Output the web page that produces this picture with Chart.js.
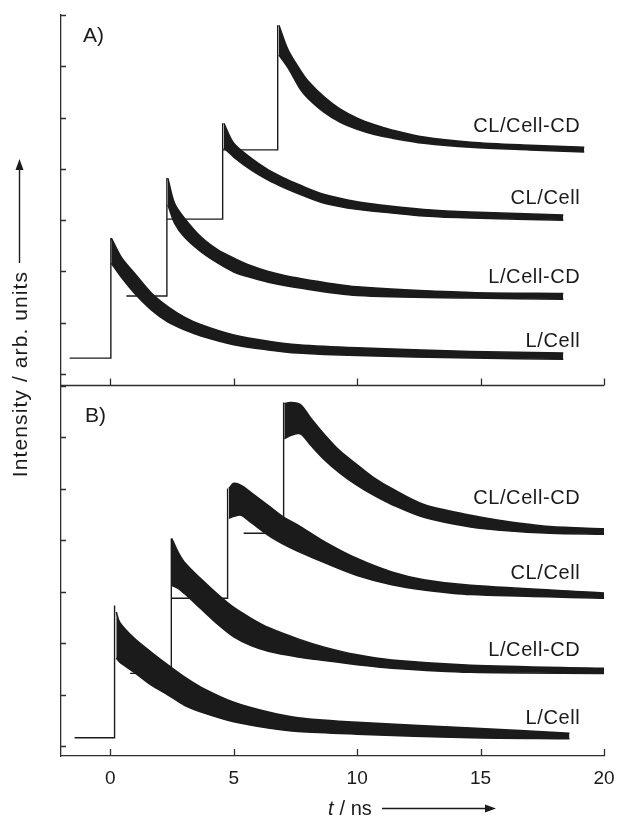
<!DOCTYPE html>
<html>
<head>
<meta charset="utf-8">
<script src="https://cdn.jsdelivr.net/npm/chart.js@4.4.1/dist/chart.umd.min.js"></script>
<style>
  html, body { margin: 0; padding: 0; background: #fff; }
  #wrap { position: relative; width: 618px; height: 816px; }
</style>
</head>
<body>
<div id="wrap"><canvas id="chart"></canvas></div>
<script>
// ==================
//  DATA (t in ns, intensity in arb. units, one unit = one tick)
// ==================
const X_TICKS = [0, 5, 10, 15, 20];
const Y_TICKS = [0, 1, 2, 3, 4, 5, 6, 7];
const CURVE_NAMES = ["CL/Cell-CD", "CL/Cell", "L/Cell-CD", "L/Cell"];

// --- Panel A ---
const aLCellStepT = [-1.65, 0.02, 0.02];
const aLCellStepV = [0.31, 0.31, 2.65];
const aLCellT  = [0.04, 0.44, 0.97, 1.66, 2.34, 3.0, 3.68, 5.0, 6.4, 7.6, 10.0, 14.6, 18.35];
const aLCellHi = [2.65, 2.28, 1.97, 1.58, 1.31, 1.11, 0.96, 0.76, 0.64, 0.57, 0.51, 0.44, 0.41];
const aLCellLo = [2.16, 1.89, 1.58, 1.25, 1.01, 0.86, 0.74, 0.57, 0.47, 0.41, 0.36, 0.31, 0.29];

const aLCellCDStepT = [0.65, 2.29, 2.29];
const aLCellCDStepV = [1.52, 1.52, 3.82];
const aLCellCDT  = [2.33, 2.6, 3.0, 3.68, 4.36, 5.0, 5.7, 6.4, 7.6, 10.0, 14.6, 18.35];
const aLCellCDHi = [3.82, 3.33, 3.04, 2.67, 2.42, 2.26, 2.11, 2.00, 1.87, 1.70, 1.59, 1.57];
const aLCellCDLo = [3.30, 2.94, 2.67, 2.38, 2.16, 1.99, 1.88, 1.79, 1.68, 1.53, 1.48, 1.46];

const aCLCellStepT = [2.29, 4.55, 4.55];
const aCLCellStepV = [3.02, 3.02, 4.89];
const aCLCellT  = [4.6, 5.0, 5.7, 6.4, 7.0, 7.7, 8.67, 10.0, 11.4, 12.7, 14.6, 18.35];
const aCLCellHi = [4.89, 4.50, 4.21, 3.98, 3.83, 3.68, 3.50, 3.36, 3.27, 3.21, 3.16, 3.10];
const aCLCellLo = [4.41, 4.23, 3.98, 3.78, 3.64, 3.50, 3.33, 3.21, 3.14, 3.08, 3.04, 3.00];

const aCLCellCDStepT = [4.55, 6.78, 6.78];
const aCLCellCDStepV = [4.37, 4.37, 6.80];
const aCLCellCDT  = [6.83, 7.2, 7.7, 8.0, 8.67, 9.3, 10.0, 10.7, 11.4, 12.7, 14.6, 17.0, 19.2];
const aCLCellCDHi = [6.80, 6.32, 5.92, 5.72, 5.40, 5.17, 4.99, 4.86, 4.76, 4.62, 4.52, 4.46, 4.42];
const aCLCellCDLo = [6.22, 5.97, 5.55, 5.38, 5.10, 4.91, 4.77, 4.67, 4.60, 4.50, 4.42, 4.37, 4.33];

// --- Panel B ---
const bLCellStepT = [-1.45, 0.17, 0.17];
const bLCellStepV = [0.16, 0.16, 2.73];
const bLCellT  = [0.24, 0.38, 0.97, 1.66, 2.34, 3.0, 3.68, 5.0, 6.4, 7.6, 10.0, 14.6, 18.6];
const bLCellHi = [2.60, 2.40, 2.09, 1.82, 1.57, 1.34, 1.14, 0.85, 0.66, 0.55, 0.46, 0.35, 0.25];
const bLCellLo = [1.71, 1.63, 1.43, 1.18, 0.99, 0.79, 0.66, 0.47, 0.35, 0.28, 0.23, 0.16, 0.14];

const bLCellCDStepT = [0.8, 2.47, 2.47];
const bLCellCDStepV = [1.41, 1.41, 4.03];
const bLCellCDT  = [2.49, 2.75, 3.0, 3.68, 4.36, 5.0, 5.7, 6.4, 7.6, 8.67, 10.0, 11.4, 14.6, 20.0];
const bLCellCDHi = [4.03, 3.76, 3.57, 3.24, 2.94, 2.69, 2.48, 2.30, 2.08, 1.92, 1.77, 1.67, 1.57, 1.51];
const bLCellCDLo = [3.12, 3.06, 2.96, 2.66, 2.36, 2.12, 1.95, 1.84, 1.73, 1.66, 1.58, 1.51, 1.43, 1.41];

const bCLCellStepT = [2.47, 4.75, 4.75];
const bCLCellStepV = [2.87, 2.87, 5.00];
const bCLCellT  = [4.8, 5.0, 5.3, 5.7, 6.4, 7.0, 7.6, 8.67, 10.0, 11.4, 12.7, 14.6, 20.0];
const bCLCellHi = [5.00, 5.10, 5.06, 4.92, 4.67, 4.45, 4.29, 3.97, 3.64, 3.38, 3.23, 3.12, 2.97];
const bCLCellLo = [4.42, 4.46, 4.48, 4.34, 4.09, 3.92, 3.78, 3.56, 3.31, 3.13, 3.03, 2.94, 2.87];

const bCLCellCDStepT = [5.4, 7.02, 7.02];
const bCLCellCDStepV = [4.13, 4.13, 6.67];
const bCLCellCDT  = [7.05, 7.3, 7.7, 8.1, 8.67, 9.3, 10.0, 10.7, 11.4, 12.7, 14.6, 15.8, 17.8, 20.0];
const bCLCellCDHi = [6.65, 6.67, 6.63, 6.38, 6.05, 5.73, 5.46, 5.20, 5.00, 4.69, 4.48, 4.38, 4.26, 4.22];
const bCLCellCDLo = [5.97, 6.03, 6.06, 5.85, 5.56, 5.30, 5.06, 4.86, 4.69, 4.44, 4.25, 4.19, 4.13, 4.11];

// label anchors (right edge t, centre value) per panel, same order as CURVE_NAMES
const LABEL_T = 19.04;
const LABEL_Y_A = [4.85, 3.45, 1.91, 0.66];
const LABEL_Y_B = [4.83, 3.37, 1.88, 0.56];

// ==================
//  STYLE
// ==================
const INK = "#1b1b1b";
const AXIS = "#2e2e2e";
const FONT = "'Liberation Sans', Arial, sans-serif";

function pts(ts, vs) {
  return ts.map((t, i) => ({ x: t, y: vs[i] }));
}

const datasets = [];
function addCurve(axis, stepT, stepV, t, hi, lo) {
  datasets.push({ data: pts(stepT, stepV), yAxisID: axis, borderColor: INK, borderWidth: 1.4, pointRadius: 0, fill: false, tension: 0 });
  datasets.push({ data: pts(t, hi), yAxisID: axis, borderColor: INK, borderWidth: 1.5, pointRadius: 0, fill: false, tension: 0.3 });
  datasets.push({ data: pts(t, lo), yAxisID: axis, borderColor: INK, borderWidth: 1.5, pointRadius: 0, fill: "-1", backgroundColor: INK, tension: 0.3 });
}

addCurve("yA", aLCellStepT, aLCellStepV, aLCellT, aLCellHi, aLCellLo);
addCurve("yA", aLCellCDStepT, aLCellCDStepV, aLCellCDT, aLCellCDHi, aLCellCDLo);
addCurve("yA", aCLCellStepT, aCLCellStepV, aCLCellT, aCLCellHi, aCLCellLo);
addCurve("yA", aCLCellCDStepT, aCLCellCDStepV, aCLCellCDT, aCLCellCDHi, aCLCellCDLo);
addCurve("yB", bLCellStepT, bLCellStepV, bLCellT, bLCellHi, bLCellLo);
addCurve("yB", bLCellCDStepT, bLCellCDStepV, bLCellCDT, bLCellCDHi, bLCellCDLo);
addCurve("yB", bCLCellStepT, bCLCellStepV, bCLCellT, bCLCellHi, bCLCellLo);
addCurve("yB", bCLCellCDStepT, bCLCellCDStepV, bCLCellCDT, bCLCellCDHi, bCLCellCDLo);

function arrowHead(ctx, x, y, dir) {
  // dir: "up" or "right"
  ctx.beginPath();
  if (dir === "up") {
    ctx.moveTo(x, y); ctx.lineTo(x - 4, y + 11); ctx.lineTo(x + 4, y + 11);
  } else {
    ctx.moveTo(x, y); ctx.lineTo(x - 11, y - 4); ctx.lineTo(x - 11, y + 4);
  }
  ctx.closePath();
  ctx.fill();
}

// ticks inside the frame, panel divider, titles and labels
const decorPlugin = {
  id: "decor",
  afterDraw(chart) {
    const { ctx, chartArea, scales } = chart;
    const x = scales.x, yA = scales.yA, yB = scales.yB;
    ctx.save();
    ctx.strokeStyle = AXIS;
    ctx.fillStyle = AXIS;
    ctx.lineWidth = 1.3;

    // divider between A and B
    ctx.beginPath();
    ctx.moveTo(chartArea.left, yA.bottom);
    ctx.lineTo(chartArea.right, yA.bottom);
    ctx.stroke();

    // inward ticks
    ctx.beginPath();
    [yA, yB].forEach((s) => {
      Y_TICKS.forEach((v) => {
        const py = Math.round(s.getPixelForValue(v)) + 0.5;
        ctx.moveTo(chartArea.left, py);
        ctx.lineTo(chartArea.left + 5, py);
      });
    });
    X_TICKS.forEach((v) => {
      const px = Math.round(x.getPixelForValue(v)) + 0.5;
      ctx.moveTo(px, yA.bottom);
      ctx.lineTo(px, yA.bottom - 7);
      ctx.moveTo(px, yB.bottom);
      ctx.lineTo(px, yB.bottom - 7);
    });
    ctx.stroke();

    // panel letters
    ctx.fillStyle = INK;
    ctx.font = `21px ${FONT}`;
    ctx.textAlign = "left";
    ctx.textBaseline = "alphabetic";
    ctx.fillText("A)", 83, 42);
    ctx.fillText("B)", 85, 422);

    // curve labels
    ctx.font = `20px ${FONT}`;
    ctx.letterSpacing = "0.6px";
    ctx.textAlign = "right";
    const lx = x.getPixelForValue(LABEL_T);
    CURVE_NAMES.forEach((name, i) => {
      ctx.fillText(name, lx, yA.getPixelForValue(LABEL_Y_A[i]) + 7);
      ctx.fillText(name, lx, yB.getPixelForValue(LABEL_Y_B[i]) + 7);
    });

    // y title with arrow
    ctx.save();
    ctx.translate(27, 374);
    ctx.rotate(-Math.PI / 2);
    ctx.font = `21px ${FONT}`;
    ctx.letterSpacing = "1.1px";
    ctx.textAlign = "center";
    ctx.fillText("Intensity / arb. units", 0, 0);
    ctx.restore();
    ctx.strokeStyle = INK;
    ctx.lineWidth = 1.4;
    ctx.beginPath();
    ctx.moveTo(19.5, 263);
    ctx.lineTo(19.5, 166);
    ctx.stroke();
    arrowHead(ctx, 19.5, 159, "up");

    // x title with arrow
    ctx.letterSpacing = "0px";
    ctx.textAlign = "left";
    ctx.font = `italic 20px ${FONT}`;
    ctx.fillText("t", 328, 815);
    ctx.font = `20px ${FONT}`;
    ctx.fillText(" / ns", 334, 815);
    ctx.beginPath();
    ctx.moveTo(382, 808.5);
    ctx.lineTo(488, 808.5);
    ctx.stroke();
    arrowHead(ctx, 496, 808.5, "right");

    ctx.restore();
  }
};

const yAxis = (min) => ({
  type: "linear",
  position: "left",
  stack: "panels",
  stackWeight: 1,
  min: min,
  max: 7,
  ticks: { display: false },
  grid: { display: false },
  border: { display: true, color: AXIS, width: 1.3 },
  afterFit: (s) => { s.width = 0; }
});

new Chart(document.getElementById("chart"), {
  type: "line",
  data: { datasets },
  options: {
    responsive: true,
    maintainAspectRatio: false,
    animation: false,
    layout: { padding: { left: 61, top: 15, right: 14, bottom: 0 } },
    plugins: { legend: { display: false }, tooltip: { enabled: false } },
    scales: {
      x: {
        type: "linear",
        min: -2,
        max: 20,
        afterBuildTicks: (s) => { s.ticks = s.ticks.filter((t) => X_TICKS.includes(t.value)); },
        afterFit: (s) => { s.height = 60; },
        ticks: { font: { family: FONT, size: 19 }, color: INK, padding: 3, maxRotation: 0 },
        grid: { display: false },
        border: { display: true, color: AXIS, width: 1.3 }
      },
      // stacked scales: the one listed first ends up at the bottom
      yB: yAxis(-0.194),
      yA: yAxis(-0.224)
    }
  },
  plugins: [decorPlugin]
});
</script>
</body>
</html>
